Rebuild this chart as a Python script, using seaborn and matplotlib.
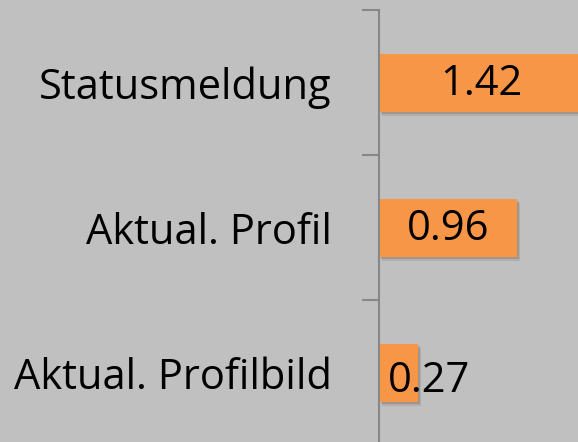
import matplotlib
matplotlib.use('Agg')
import matplotlib.pyplot as plt
import matplotlib.patheffects as pe
import seaborn as sns
import pandas as pd

# daten
kategorien = ['Statusmeldung', 'Aktual. Profil', 'Aktual. Profilbild']
werte = [1.42, 0.96, 0.27]
beschriftungen = ['1.42', '0.96', '0.27']

df = pd.DataFrame({'kategorie': kategorien, 'wert': werte})

sns.set_style('white')
plt.rcParams['font.family'] = ['Open Sans', 'DejaVu Sans']

hintergrund = '#c0c0c0'
fig = plt.figure(figsize=(5.78, 4.42), dpi=100, facecolor=hintergrund)
# achse beginnt bei x=379 px, oben bei y=10 px
ax = fig.add_axes([379 / 578, (442 - 445) / 442, 199 / 578, 435 / 442])
ax.set_facecolor(hintergrund)

sns.barplot(data=df, x='wert', y='kategorie', order=kategorien,
            color='#f79646', saturation=1, width=0.4, ax=ax,
            edgecolor='none', linewidth=0)

# weicher schatten
for bar in ax.patches:
    bar.set_path_effects([pe.SimplePatchShadow(offset=(2.5, -3), alpha=0.12),
                          pe.SimplePatchShadow(offset=(1.5, -2), alpha=0.18),
                          pe.Normal()])

ax.set_xlim(0, 199 / 143.5)
ax.set_ylim(2.5, -0.5)

# werte in den balken
groesse = 30
for i, (w, txt) in enumerate(zip(werte, beschriftungen)):
    if w > 0.5:
        ax.annotate(txt, (w / 2, i), xytext=(0, -1), textcoords='offset points',
                    ha='center', va='center', fontsize=groesse,
                    color='black', annotation_clip=False)
    else:
        ax.annotate(txt, (0, i), xytext=(6.5, -6), textcoords='offset points',
                    ha='left', va='center', fontsize=groesse, color='black')

ax.set_xlabel('')
ax.set_ylabel('')
ax.set_xticks([])
ax.set_yticks(range(len(kategorien)))
ax.set_yticklabels(kategorien, fontsize=groesse, color='black')
ax.set_yticks([-0.5, 0.5, 1.5, 2.5], minor=True)
ax.tick_params(axis='y', which='major', length=0, pad=34)
ax.tick_params(axis='y', which='minor', length=12, width=1.5, color='#878787', left=True)

for s in ['top', 'right', 'bottom']:
    ax.spines[s].set_visible(False)
ax.spines['left'].set_color('#878787')
ax.spines['left'].set_linewidth(1.5)

plt.savefig('out.png', dpi=100, facecolor=hintergrund)
plt.close()
